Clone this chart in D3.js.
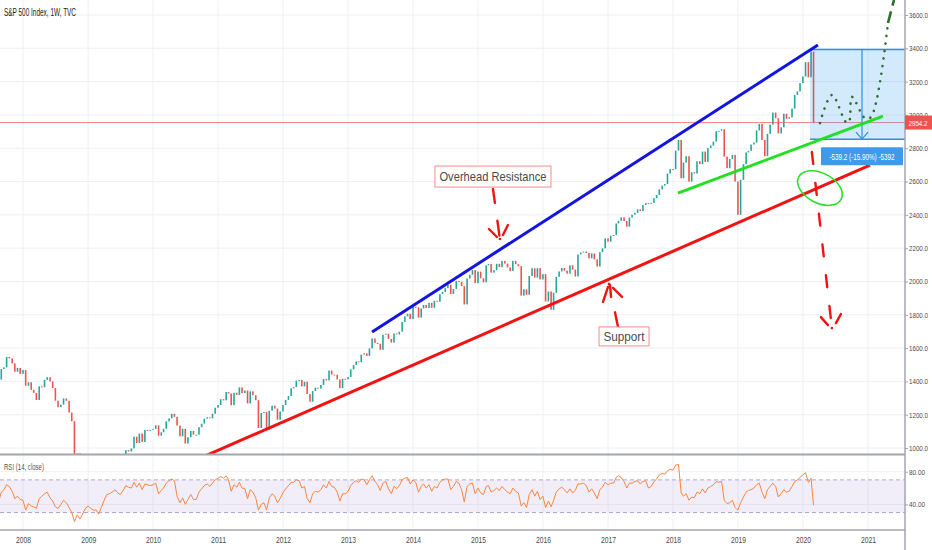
<!DOCTYPE html>
<html>
<head>
<meta charset="utf-8">
<script src="https://cdn.jsdelivr.net/npm/d3@7"></script>
<style>
  body { margin: 0; background: #fff; }
  text { font-family: "Liberation Sans Narrow", "Liberation Sans", Arial, sans-serif; }
</style>
</head>
<body>
<script>
var width = 932;
var height = 550;

// semi-monthly closes (1st and 16th of each month), starting Aug 2007
var closes = [
  1465, 1411, 1474, 1484, 1547, 1538, 1508, 1458, 1481, 1445, // 2007
  1468, 1374, 1395, 1349, 1331, 1288, 1370, 1365, 1409, 1425, 1400, 1360, 1284, 1245, 1260, 1298, 1283, 1213, 1161, 946, 968, 850, 816, 913, // 2008
  903, 850, 826, 827, 735, 753, 811, 865, 877, 893, 942, 911, 923, 940, 987, 979, 998, 1068, 1030, 1087, 1036, 1109, 1108, 1109, // 2009
  1115, 1136, 1074, 1094, 1115, 1160, 1178, 1205, 1187, 1135, 1070, 1115, 1027, 1065, 1102, 1080, 1080, 1125, 1146, 1176, 1184, 1178, 1206, 1242, // 2010
  1258, 1293, 1286, 1336, 1327, 1257, 1332, 1319, 1364, 1330, 1345, 1268, 1340, 1317, 1287, 1120, 1210, 1216, 1110, 1224, 1254, 1237, 1170, 1219, // 2011
  1258, 1289, 1312, 1358, 1366, 1404, 1408, 1370, 1398, 1324, 1278, 1342, 1362, 1356, 1379, 1415, 1406, 1465, 1441, 1440, 1412, 1359, 1416, 1413, // 2012
  1426, 1472, 1498, 1520, 1515, 1561, 1569, 1553, 1598, 1658, 1631, 1626, 1590, 1680, 1686, 1655, 1633, 1688, 1682, 1698, 1757, 1791, 1806, 1775, // 2013
  1848, 1845, 1783, 1838, 1859, 1841, 1872, 1842, 1884, 1878, 1924, 1937, 1960, 1981, 1925, 1955, 2003, 1998, 1972, 1862, 2018, 2040, 2068, 1990, // 2014
  2059, 2019, 1995, 2097, 2105, 2053, 2068, 2106, 2086, 2123, 2107, 2084, 2063, 2124, 2104, 2092, 1915, 1953, 1920, 2033, 2079, 2023, 2080, 2012, // 2015
  2044, 1880, 1940, 1830, 1932, 2028, 2060, 2081, 2065, 2047, 2097, 2071, 2030, 2162, 2174, 2180, 2171, 2139, 2168, 2133, 2090, 2176, 2199, 2259, // 2016
  2239, 2275, 2279, 2348, 2364, 2385, 2363, 2329, 2384, 2401, 2412, 2433, 2423, 2459, 2470, 2468, 2472, 2500, 2519, 2553, 2575, 2585, 2648, 2675, // 2017
  2674, 2786, 2850, 2620, 2714, 2752, 2600, 2656, 2648, 2722, 2705, 2780, 2718, 2801, 2816, 2840, 2902, 2905, 2914, 2750, 2680, 2736, 2760, 2600, // 2018
  2400, 2610, 2704, 2775, 2784, 2822, 2834, 2907, 2946, 2850, 2752, 2886, 2942, 3014, 2980, 2889, 2926, 3007, 2977, 2986, 3038, 3120, 3141, 3191, // 2019
  3231, 3317, 3226, 3380, 2954 // 2020
];

// RSI(14) read at the same dates
var rsiValues = [
  52, 42, 55, 58, 64, 62, 56, 47, 50, 46,
  45, 33, 41, 38, 37, 35, 47, 50, 53, 55, 48, 44, 37, 35, 40, 45, 42, 36, 30, 19, 27, 22, 28, 35,
  38, 35, 33, 33, 28, 36, 45, 52, 53, 55, 58, 54, 52, 57, 63, 61, 60, 67, 61, 66, 58, 65, 64, 63,
  64, 66, 53, 57, 60, 66, 69, 71, 69, 50, 42, 48, 40, 46, 52, 46, 46, 55, 59, 63, 65, 62, 66, 70,
  72, 74, 72, 75, 70, 56, 64, 61, 67, 60, 59, 47, 58, 55, 48, 33, 40, 42, 33, 48, 53, 50, 42, 47,
  54, 59, 63, 67, 67, 70, 69, 60, 62, 47, 42, 53, 56, 55, 58, 64, 60, 68, 62, 61, 55, 44, 53, 53,
  56, 63, 67, 69, 67, 71, 70, 64, 70, 75, 68, 64, 57, 66, 68, 59, 53, 62, 59, 63, 70, 72, 73, 65,
  70, 67, 55, 62, 65, 60, 64, 56, 62, 60, 67, 70, 71, 71, 58, 62, 68, 66, 58, 43, 62, 65, 66, 53,
  60, 54, 52, 62, 63, 55, 57, 60, 57, 62, 58, 55, 53, 60, 56, 54, 38, 42, 36, 52, 58, 50, 56, 46,
  50, 36, 44, 37, 45, 55, 59, 61, 58, 54, 59, 54, 57, 65, 65, 66, 63, 55, 59, 54, 47, 58, 61, 67,
  64, 66, 66, 73, 75, 73, 68, 60, 66, 66, 68, 69, 65, 68, 69, 60, 62, 68, 71, 76, 78, 77, 81, 83,
  82, 88, 89, 54, 50, 53, 45, 49, 48, 55, 53, 59, 54, 60, 62, 64, 68, 67, 68, 45, 41, 42, 45, 36,
  33, 42, 49, 55, 57, 58, 60, 64, 66, 55, 47, 58, 62, 66, 62, 49, 53, 58, 55, 56, 62, 68, 70, 73,
  76, 79, 67, 72, 39
];

var yearTicks = [2008, 2009, 2010, 2011, 2012, 2013, 2014, 2015, 2016, 2017, 2018, 2019, 2020, 2021];
var priceTicks = [1000, 1200, 1400, 1600, 1800, 2000, 2200, 2400, 2600, 2800, 3000, 3200, 3400, 3600];
var rsiTicks = [40, 80];
var rsiBand = [30, 70];
var lastPrice = 2954.2;

// drawings, as [decimal year, price]
var resistanceLine = [[2013.369, 1697], [2020.231, 3420]];
var supportLine = [[2010.80, 952], [2021.031, 2699]];
var channelLine = [[2018.077, 2531], [2021.231, 2993]];
var rangeStart = 2020.108, rangeEnd = 2021.569, rangeArrowAt = 2020.908;
var rangeTop = 3393.5, rangeBottom = 2854.3;
var rangeText = "-539.2 (-15.90%) -5392";
var forecastDots = [[2020.262, 2951], [2020.446, 3120], [2020.662, 2957], [2020.708, 2957], [2020.754, 3108],
                    [2020.954, 2981], [2021.046, 2987], [2021.308, 3552]];
var forecastDash = [[2021.308, 3552], [2021.40, 3690]];
var crashArrow = [[2020.138, 2777], [2020.446, 1720]];
var resistArrow = [[2015.231, 2555], [2015.338, 2255]];
var supportArrow = [[2017.015, 1985], [2017.154, 1727]];
var circleCenter = [2020.262, 2561];
var resistLabel = { text: "Overhead Resistance", at: [2015.231, 2630] };
var supportLabel = { text: "Support", at: [2017.246, 1670] };

var axisX = 905, paneBottom = 454, rsiTop = 455, rsiBottom = 530;

var xScale = d3.scaleTime()
  .domain([new Date(2008, 0, 1), new Date(2021, 0, 1)])
  .range([23, 868]);
var yScale = d3.scaleLinear().domain([1000, 3600]).range([448, 15]);
var rsiScale = d3.scaleLinear().domain([0, 100]).range([537, 455.4]);

function yr(v) {
  var y = Math.floor(v), s = new Date(y, 0, 1), e = new Date(y + 1, 0, 1);
  return new Date(+s + (v - y) * (e - s));
}
function px(p) { return [xScale(yr(p[0])), yScale(p[1])]; }

var dates = closes.map(function (d, i) {
  return new Date(2007, 7 + Math.floor(i / 2), i % 2 ? 16 : 1);
});

const svg = d3.select("body").append("svg")
  .attr("width", width).attr("height", height);

var defs = svg.append("defs");
defs.append("clipPath").attr("id", "mainClip").append("rect")
  .attr("x", 0).attr("y", 0).attr("width", axisX).attr("height", paneBottom);
defs.append("clipPath").attr("id", "rsiClip").append("rect")
  .attr("x", 0).attr("y", rsiTop).attr("width", axisX).attr("height", rsiBottom - rsiTop);

// grid
var grid = svg.append("g").attr("stroke", "#eef0f4").attr("stroke-width", 1);
grid.selectAll("line.v").data(yearTicks).enter().append("line")
  .attr("x1", function (d) { return xScale(new Date(d, 0, 1)); })
  .attr("x2", function (d) { return xScale(new Date(d, 0, 1)); })
  .attr("y1", 0).attr("y2", rsiBottom);
grid.selectAll("line.h").data(priceTicks).enter().append("line")
  .attr("x1", 0).attr("x2", axisX)
  .attr("y1", function (d) { return yScale(d); })
  .attr("y2", function (d) { return yScale(d); });
grid.selectAll("line.r").data(rsiTicks).enter().append("line")
  .attr("x1", 0).attr("x2", axisX)
  .attr("y1", function (d) { return rsiScale(d); })
  .attr("y2", function (d) { return rsiScale(d); });

// candles
var main = svg.append("g").attr("clip-path", "url(#mainClip)");
main.append("g").selectAll("rect").data(closes).enter().append("rect")
  .attr("x", function (d, i) { return xScale(dates[i]) - 0.8; })
  .attr("width", 1.6)
  .attr("y", function (d, i) {
    var o = i ? closes[i - 1] : d;
    return yScale(Math.max(o, d));
  })
  .attr("height", function (d, i) {
    var o = i ? closes[i - 1] : d;
    return Math.max(1, Math.abs(yScale(o) - yScale(d)));
  })
  .attr("fill", function (d, i) {
    var o = i ? closes[i - 1] : d;
    return d >= o ? "#26a69a" : "#ef5350";
  });

// last price line
main.append("line")
  .attr("x1", 0).attr("x2", axisX)
  .attr("y1", yScale(lastPrice)).attr("y2", yScale(lastPrice))
  .attr("stroke", "#ef5350").attr("stroke-opacity", 0.7).attr("stroke-width", 1);

// price range box
var bx0 = xScale(yr(rangeStart)), bx1 = xScale(yr(rangeEnd));
var by0 = yScale(rangeTop), by1 = yScale(rangeBottom);
var ax = xScale(yr(rangeArrowAt));
main.append("rect").attr("x", bx0).attr("y", by0)
  .attr("width", bx1 - bx0).attr("height", by1 - by0)
  .attr("fill", "#2196f3").attr("fill-opacity", 0.2);
main.selectAll("line.box").data([rangeTop, rangeBottom]).enter().append("line")
  .attr("x1", bx0).attr("x2", bx1)
  .attr("y1", function (d) { return yScale(d); }).attr("y2", function (d) { return yScale(d); })
  .attr("stroke", "#2f8fe0").attr("stroke-width", 1.5);
main.append("line").attr("x1", ax).attr("x2", ax).attr("y1", by0).attr("y2", by1)
  .attr("stroke", "#2f8fe0").attr("stroke-width", 1.2);
main.append("path")
  .attr("d", "M" + (ax - 6) + "," + (by1 - 7) + "L" + ax + "," + by1 + "L" + (ax + 6) + "," + (by1 - 7))
  .attr("fill", "none").attr("stroke", "#2f8fe0").attr("stroke-width", 1.2);

// trend lines
var line = d3.line().x(function (d) { return px(d)[0]; }).y(function (d) { return px(d)[1]; });
main.append("path").attr("d", line(resistanceLine))
  .attr("stroke", "#1414e0").attr("stroke-width", 3).attr("fill", "none");
main.append("path").attr("d", line(supportLine))
  .attr("stroke", "#f21212").attr("stroke-width", 3).attr("fill", "none");
main.append("path").attr("d", line(channelLine))
  .attr("stroke", "#22e022").attr("stroke-width", 3).attr("fill", "none");

// forecast path
main.append("path").attr("d", line.curve(d3.curveCatmullRom)(forecastDots))
  .attr("stroke", "#2e6e2e").attr("stroke-width", 2.6).attr("fill", "none")
  .attr("stroke-linecap", "round").attr("stroke-dasharray", "0.1,7.5");
line.curve(d3.curveLinear);
main.append("path").attr("d", line(forecastDash))
  .attr("stroke", "#2e6e2e").attr("stroke-width", 2.6).attr("fill", "none")
  .attr("stroke-dasharray", "12,6");

// green circle
var cc = px(circleCenter);
main.append("ellipse").attr("cx", cc[0]).attr("cy", cc[1]).attr("rx", 24).attr("ry", 15)
  .attr("transform", "rotate(28," + cc[0] + "," + cc[1] + ")")
  .attr("fill", "none").attr("stroke", "#22e022").attr("stroke-width", 1.5);

// hand drawn arrows
function dashedArrow(pts, dash, heads) {
  var g = main.append("g").attr("stroke", "#f21212").attr("stroke-width", 2.4)
    .attr("stroke-linecap", "round").attr("fill", "none");
  g.append("path").attr("d", line(pts)).attr("stroke-dasharray", dash);
  var tip = px(heads.tip);
  g.selectAll("line").data(heads.strokes).enter().append("line")
    .attr("x1", function (s) { return tip[0] + s[0]; })
    .attr("y1", function (s) { return tip[1] + s[1]; })
    .attr("x2", function (s) { return tip[0] + s[2]; })
    .attr("y2", function (s) { return tip[1] + s[3]; });
  g.append("circle").attr("cx", tip[0]).attr("cy", tip[1]).attr("r", 1.3)
    .attr("fill", "#f21212").attr("stroke", "none");
}
dashedArrow(crashArrow, "12,19", { tip: crashArrow[1], strokes: [[-11, -11, -4, -3], [9, -14, 4, -5]] });
dashedArrow(resistArrow, "14,18,15,30", { tip: resistArrow[1], strokes: [[-11, -10, -3, -2], [8, -14, 3, -4]] });
dashedArrow(supportArrow, "0,29,15,30", { tip: supportArrow[0],
  strokes: [[-6, 18, -1, 3], [1, 1, 2, 13], [4, 4, 13, 13]] });

// text labels
function label(l, w, h, tl) {
  var p = px(l.at);
  var g = svg.append("g");
  g.append("rect").attr("x", p[0] - w / 2).attr("y", p[1] - h / 2)
    .attr("width", w).attr("height", h)
    .attr("fill", "#fff").attr("stroke", "#f08c8c").attr("stroke-width", 1);
  g.append("text").attr("x", p[0]).attr("y", p[1] + 4.5).attr("text-anchor", "middle")
    .attr("font-size", 13).attr("fill", "#4a4a4a")
    .attr("textLength", tl).attr("lengthAdjust", "spacingAndGlyphs")
    .text(l.text);
}
label(resistLabel, 116, 21, 107);
label(supportLabel, 50, 19, 41);

// range label
var rl = svg.append("g");
rl.append("rect").attr("x", ax - 41).attr("y", by1 + 8).attr("width", 82).attr("height", 18)
  .attr("rx", 1).attr("fill", "#3d9be9");
rl.append("text").attr("x", ax).attr("y", by1 + 20.5).attr("text-anchor", "middle")
  .attr("font-size", 9).attr("fill", "#fff")
  .attr("textLength", 65).attr("lengthAdjust", "spacingAndGlyphs")
  .text(rangeText);

// RSI pane
var rsi = svg.append("g").attr("clip-path", "url(#rsiClip)");
rsi.append("rect").attr("x", 0).attr("width", axisX)
  .attr("y", rsiScale(rsiBand[1])).attr("height", rsiScale(rsiBand[0]) - rsiScale(rsiBand[1]))
  .attr("fill", "#9575cd").attr("fill-opacity", 0.12);
rsi.selectAll("line.band").data(rsiBand).enter().append("line")
  .attr("x1", 0).attr("x2", axisX)
  .attr("y1", function (d) { return rsiScale(d); }).attr("y2", function (d) { return rsiScale(d); })
  .attr("stroke", "#b3a6cc").attr("stroke-dasharray", "4,3");
rsi.append("path")
  .attr("d", d3.line()
    .x(function (d, i) { return xScale(dates[i]); })
    .y(function (d) { return rsiScale(d); })(rsiValues))
  .attr("fill", "none").attr("stroke", "#f7863f").attr("stroke-width", 1);

// frames
svg.append("line").attr("x1", 0).attr("x2", axisX).attr("y1", paneBottom + 0.5).attr("y2", paneBottom + 0.5)
  .attr("stroke", "#a3a6ae").attr("stroke-width", 2);
svg.append("line").attr("x1", 0).attr("x2", axisX).attr("y1", rsiBottom).attr("y2", rsiBottom)
  .attr("stroke", "#a3a6ae").attr("stroke-width", 1.5);
svg.append("line").attr("x1", axisX).attr("x2", axisX).attr("y1", 0).attr("y2", height)
  .attr("stroke", "#a3a6ae").attr("stroke-width", 1.5);

// axes
var priceAxis = svg.append("g").attr("transform", "translate(" + axisX + ",0)")
  .call(d3.axisRight(yScale).tickValues(priceTicks).tickFormat(d3.format(".1f")).tickSize(3).tickPadding(1));
var rsiAxis = svg.append("g").attr("transform", "translate(" + axisX + ",0)")
  .call(d3.axisRight(rsiScale).tickValues(rsiTicks).tickFormat(d3.format(".2f")).tickSize(3).tickPadding(1));
var timeAxis = svg.append("g").attr("transform", "translate(0," + rsiBottom + ")")
  .call(d3.axisBottom(xScale)
    .tickValues(yearTicks.map(function (y) { return new Date(y, 0, 1); }))
    .tickFormat(d3.timeFormat("%Y")).tickSize(0).tickPadding(7));
[[priceAxis, 19, 7.5], [rsiAxis, 16, 7.5], [timeAxis, 15, 8.5]].forEach(function (a) {
  a[0].select(".domain").remove();
  a[0].selectAll("text").attr("font-size", a[2]).attr("fill", "#4a4a4a")
    .attr("font-family", "\"Liberation Sans Narrow\", \"Liberation Sans\", Arial, sans-serif")
    .attr("textLength", a[1]).attr("lengthAdjust", "spacingAndGlyphs");
  a[0].selectAll("line").attr("stroke", "#a3a6ae");
});

// last price tag
var ly = yScale(lastPrice);
svg.append("rect").attr("x", axisX).attr("y", ly - 7).attr("width", width - axisX).attr("height", 14)
  .attr("fill", "#ef5350");
svg.append("text").attr("x", axisX + 3.5).attr("y", ly + 3).attr("font-size", 7.5).attr("fill", "#fff")
  .attr("textLength", 19).attr("lengthAdjust", "spacingAndGlyphs")
  .text(lastPrice.toFixed(1));

// titles
svg.append("text").attr("x", 4).attr("y", 15.5).attr("font-size", 10).attr("fill", "#222")
  .attr("textLength", 72).attr("lengthAdjust", "spacingAndGlyphs")
  .text("S&P 500 Index, 1W, TVC");
svg.append("text").attr("x", 4).attr("y", 470).attr("font-size", 9).attr("fill", "#555")
  .attr("textLength", 40).attr("lengthAdjust", "spacingAndGlyphs")
  .text("RSI (14, close)");
</script>
</body>
</html>
